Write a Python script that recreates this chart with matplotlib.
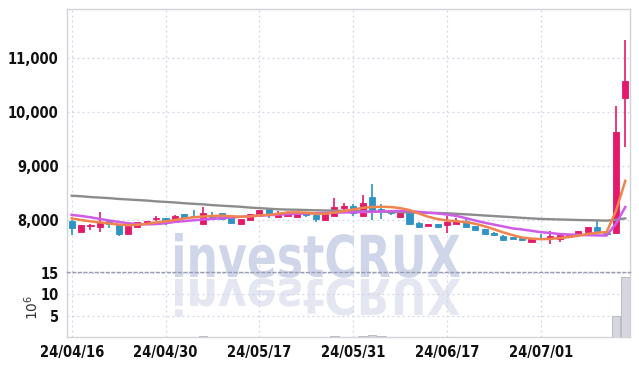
import numpy as np
import matplotlib
matplotlib.use("Agg")
import matplotlib.pyplot as plt
from matplotlib import font_manager
from matplotlib.textpath import TextPath
from matplotlib.patches import PathPatch
from matplotlib.font_manager import FontProperties
from matplotlib.transforms import Affine2D
from matplotlib.ticker import FuncFormatter

# daily OHLC (KRW)
open_ = [7990, 7775, 7885, 7875, 7980, 7920, 7745, 7865, 7920, 8012,
         8040, 7970, 8105, 8080, 7920, 8090, 8125, 8060, 7920, 8005,
         8090, 8200, 8060, 8080, 8060, 8125, 8100, 8000, 8080, 8230,
         8260, 8080, 8430, 8200, 8155, 8060, 8140, 7945, 7895, 7925,
         7905, 7930, 7985, 7890, 7835, 7760, 7710, 7685, 7660, 7600,
         7675, 7675, 7645, 7680, 7715, 7785, 7865, 7760, 7755, 10250]
high = [8000, 7910, 7930, 8140, 7990, 7925, 7900, 7960, 7985, 8080,
        8045, 8085, 8115, 8185, 8235, 8155, 8130, 8065, 8025, 8120,
        8190, 8205, 8160, 8150, 8130, 8130, 8105, 8110, 8400, 8320,
        8295, 8460, 8665, 8295, 8190, 8180, 8150, 7960, 7935, 7930,
        8080, 8045, 8025, 7895, 7840, 7775, 7730, 7690, 7665, 7655,
        7735, 7795, 7735, 7725, 7800, 7870, 7985, 7815, 10110, 11330]
low = [7730, 7770, 7815, 7785, 7850, 7710, 7740, 7860, 7915, 7980,
       7910, 7965, 8030, 8030, 7905, 8020, 7995, 7930, 7915, 8000,
       8085, 8040, 8055, 8075, 8055, 8050, 7970, 7995, 8075, 8185,
       8075, 8080, 8000, 8012, 8085, 8055, 7925, 7850, 7880, 7860,
       7765, 7925, 7870, 7815, 7735, 7700, 7610, 7640, 7620, 7595,
       7640, 7550, 7600, 7675, 7710, 7780, 7790, 7740, 7750, 9355]
close = [7850, 7905, 7895, 7940, 7925, 7735, 7895, 7955, 7980, 8042,
         8005, 8080, 8050, 8050, 8125, 8060, 8020, 7950, 8020, 8110,
         8185, 8110, 8125, 8140, 8125, 8085, 8020, 8105, 8235, 8265,
         8125, 8310, 8145, 8165, 8125, 8170, 7930, 7870, 7930, 7875,
         7955, 7985, 7875, 7820, 7745, 7720, 7635, 7650, 7625, 7650,
         7645, 7710, 7720, 7720, 7795, 7865, 7795, 7745, 9635, 10580]
# volume in millions of shares
volume = [0.08, 0.05, 0.04, 0.09, 0.05, 0.10, 0.06, 0.05, 0.04, 0.06,
          0.05, 0.07, 0.05, 0.06, 0.12, 0.05, 0.06, 0.07, 0.05, 0.06,
          0.08, 0.07, 0.05, 0.05, 0.04, 0.05, 0.06, 0.05, 0.15, 0.08,
          0.09, 0.25, 0.45, 0.12, 0.06, 0.05, 0.09, 0.06, 0.04, 0.04,
          0.08, 0.05, 0.06, 0.05, 0.06, 0.04, 0.07, 0.04, 0.04, 0.05,
          0.05, 0.08, 0.05, 0.04, 0.05, 0.06, 0.08, 0.06, 5.0, 14.0]

# moving averages as drawn on the chart
ma5 = [8030, 8000, 7975, 7955, 7935, 7915, 7905, 7910, 7930, 7955,
       7975, 8000, 8030, 8050, 8065, 8075, 8080, 8070, 8060, 8065,
       8085, 8095, 8115, 8140, 8142, 8135, 8120, 8115, 8140, 8165,
       8195, 8225, 8240, 8245, 8240, 8220, 8185, 8120, 8060, 8018,
       7990, 7978, 7960, 7930, 7885, 7830, 7770, 7720, 7675, 7655,
       7645, 7650, 7665, 7685, 7710, 7740, 7765, 7775, 8166, 8725]
ma10 = [8095, 8075, 8050, 8020, 7990, 7965, 7940, 7925, 7920, 7925,
        7940, 7965, 7980, 7995, 8010, 8020, 8035, 8045, 8060, 8070,
        8080, 8090, 8100, 8108, 8115, 8120, 8125, 8130, 8135, 8140,
        8143, 8148, 8152, 8158, 8162, 8168, 8165, 8150, 8135, 8122,
        8100, 8075, 8035, 7990, 7950, 7915, 7880, 7845, 7825, 7800,
        7775, 7760, 7740, 7732, 7725, 7720, 7715, 7712, 7930, 8240]
ma_long = [8450, 8440, 8425, 8415, 8405, 8390, 8380, 8370, 8360, 8345,
           8335, 8325, 8310, 8300, 8290, 8275, 8265, 8255, 8245, 8230,
           8220, 8210, 8198, 8193, 8190, 8185, 8180, 8177, 8173, 8170,
           8165, 8160, 8157, 8153, 8150, 8145, 8140, 8137, 8133, 8130,
           8125, 8115, 8105, 8095, 8083, 8073, 8062, 8052, 8040, 8030,
           8020, 8015, 8010, 8005, 8000, 7997, 7993, 7988, 8005, 8030]

tick_idx = [0, 10, 20, 30, 40, 50]
tick_labels = ["24/04/16", "24/04/30", "24/05/17", "24/05/31", "24/06/17", "24/07/01"]

UP = "#e5196a"
DOWN = "#2e94c6"
GRID = "#d2d5e8"
SPINE = "#d2d2d8"

# narrow bold face for ticks if there is one
fonts = font_manager.fontManager.ttflist
if any(f.name == "Liberation Sans Narrow" for f in fonts):
    tick_font = FontProperties(family="Liberation Sans Narrow", weight="bold", size=11.5)
elif any(f.name == "DejaVu Sans" and f.stretch == "condensed" for f in fonts):
    tick_font = FontProperties(family="DejaVu Sans", stretch="condensed", weight="bold", size=10.5)
else:
    tick_font = FontProperties(family="DejaVu Sans", weight="bold", size=9.5)

o = np.array(open_)
c = np.array(close)
x = np.arange(len(close))
colors = [UP if cc >= oo else DOWN for oo, cc in zip(o, c)]

fig = plt.figure(figsize=(6.39, 3.66), dpi=100)
ax = fig.add_axes([0.1049, 0.2568, 0.8810, 0.7186])
axv = fig.add_axes([0.1049, 0.0792, 0.8810, 0.1776], sharex=ax)
for a in (ax, axv):
    a.set_facecolor("none")

# watermark and its reflection, behind both panels (pixel coordinates)
wm_font = tick_font.copy()
wm_font.set_size(1)
tp = TextPath((0, 0), "investCRUX", size=1, prop=wm_font)
bb = tp.get_extents()
sx = 285 / bb.width
sy = 44 / bb.y1
base = 366 - 277
wm = PathPatch(tp, facecolor="#d0d6e9", edgecolor="none", zorder=-2)
wm_r = PathPatch(tp, facecolor="#e4e7f2", edgecolor="none", zorder=-2)
fig.add_artist(wm)
fig.add_artist(wm_r)
wm.set_transform(Affine2D().translate(-bb.x0, 0).scale(sx, sy).translate(175, base))
wm_r.set_transform(Affine2D().translate(-bb.x0, 0).scale(sx, -sy * 0.85).translate(175, base - 2))

# candles
ax.vlines(x, low, high, colors=colors, linewidth=1.2, zorder=3)
body = np.maximum(np.abs(c - o), 14)
ax.bar(x, body, bottom=np.minimum(o, c), width=0.65, color=colors,
       edgecolor=colors, linewidth=0.6, zorder=4)

ax.plot(x, ma_long, color="#8c8c8c", linewidth=1.7, zorder=5)
ax.plot(x, ma10, color="#cf5be6", linewidth=1.8, zorder=5)
ax.plot(x, ma5, color="#f0844c", linewidth=1.8, zorder=5)

ax.set_xlim(-0.5, 59.5)
ax.set_ylim(7037, 11907)
ax.set_yticks([8000, 9000, 10000, 11000])
ax.yaxis.set_major_formatter(FuncFormatter(lambda v, p: f"{v:,.0f}"))

axv.bar(x, volume, width=0.9, color="#d6d6de", edgecolor="#b4b4be", linewidth=0.6, zorder=3)
axv.set_ylim(0, 15.2)
axv.set_yticks([5, 10, 15])
axv.set_ylabel("$10^6$", fontsize=10, color="#333333")
axv.yaxis.set_label_coords(-0.047, 0.45)

axv.set_xticks(tick_idx)
axv.set_xticklabels(tick_labels)

for a in (ax, axv):
    a.grid(True, color=GRID, linestyle=(0, (1.5, 2.5)), linewidth=0.9)
    a.set_axisbelow(True)
    a.tick_params(length=0, labelcolor="#111111", pad=6)
    for lab in a.get_xticklabels() + a.get_yticklabels():
        lab.set_fontproperties(tick_font)
    for s in a.spines.values():
        s.set_color(SPINE)
        s.set_linewidth(1.0)
ax.tick_params(labelbottom=False)
ax.spines["bottom"].set_visible(False)
axv.spines["top"].set_color("#9a9cb4")
axv.spines["top"].set_linestyle((0, (2, 2)))

fig.savefig("out.png", dpi=100)
